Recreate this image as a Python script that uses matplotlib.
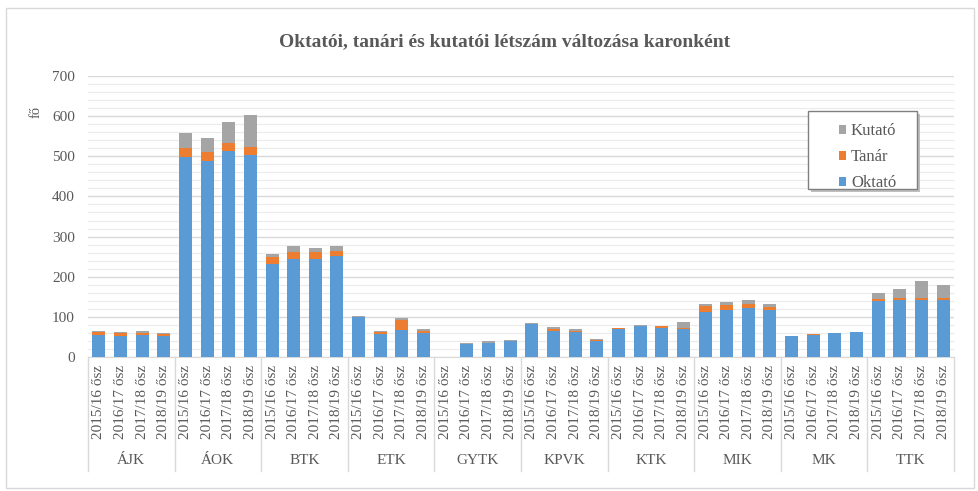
import matplotlib
matplotlib.use("Agg")
import matplotlib.pyplot as plt
import matplotlib.transforms as mtransforms
from matplotlib.patches import Rectangle
import numpy as np

plt.rcParams["font.family"] = ["Liberation Serif", "DejaVu Serif"]

# data
karok = ["ÁJK", "ÁOK", "BTK", "ETK", "GYTK", "KPVK", "KTK", "MIK", "MK", "TTK"]
evek = ["2015/16 ősz", "2016/17 ősz", "2017/18 ősz", "2018/19 ősz"]

oktato = [55, 53, 55, 53, 499, 488, 512, 502, 232, 243, 243, 252,
          99, 58, 68, 61, 0, 32, 34, 39, 81, 65, 62, 39,
          69, 76, 73, 69, 112, 118, 123, 118, 52, 55, 60, 63,
          139, 141, 141, 141]
tanar = [7, 6, 5, 5, 22, 22, 21, 21, 16, 19, 19, 12,
         0, 4, 23, 4, 0, 0, 0, 0, 0, 5, 4, 3,
         2, 1, 3, 3, 16, 12, 8, 7, 0, 2, 0, 0,
         6, 6, 6, 6]
kutato = [3, 4, 6, 3, 37, 36, 53, 80, 8, 15, 10, 12,
          2, 4, 7, 5, 0, 4, 5, 3, 4, 5, 3, 3,
          2, 2, 1, 16, 4, 8, 10, 7, 0, 0, 1, 0,
          15, 22, 43, 32]

c_okt = "#5B9BD5"
c_tan = "#ED7D31"
c_kut = "#A5A5A5"
txt = "#595959"

W, H = 979, 491
fig = plt.figure(figsize=(W / 100, H / 100), dpi=100)
fig.patches.append(Rectangle((6 / W, 3 / H), 968 / W, 480 / H,
                             transform=fig.transFigure, fill=False,
                             edgecolor="#D9D9D9", linewidth=1.0))

ax = fig.add_axes([88 / W, 1 - 357 / H, 866 / W, 281 / H])

x = np.arange(len(oktato))
okt = np.array(oktato)
tan = np.array(tanar)
kut = np.array(kutato)
w = 0.6
ax.bar(x, okt, width=w, color=c_okt, label="Oktató", zorder=3)
ax.bar(x, tan, width=w, bottom=okt, color=c_tan, label="Tanár", zorder=3)
ax.bar(x, kut, width=w, bottom=okt + tan, color=c_kut, label="Kutató", zorder=3)

ax.set_xlim(-0.5, len(oktato) - 0.5)
ax.set_ylim(0, 700)
ax.set_yticks(np.arange(0, 701, 100))
ax.set_yticks(np.arange(0, 701, 20), minor=True)
ax.grid(axis="y", which="major", color="#D9D9D9", linewidth=1.0, zorder=0)
ax.grid(axis="y", which="minor", color="#EBEBEB", linewidth=0.8, zorder=0)
ax.tick_params(axis="y", which="both", length=0, labelsize=11, labelcolor=txt, pad=9.5)
for s in ["top", "right", "left"]:
    ax.spines[s].set_visible(False)
ax.spines["bottom"].set_color("#D9D9D9")

ax.set_xticks(x)
ax.set_xticklabels(evek * len(karok), rotation=90, fontsize=11, color=txt)
ax.tick_params(axis="x", length=0, pad=5.5)

# group separators and labels
trans = mtransforms.blended_transform_factory(ax.transData, ax.transAxes)
for i in range(len(karok) + 1):
    xs = i * 4 - 0.5
    ax.plot([xs, xs], [0, -0.405], transform=trans, color="#D9D9D9",
            linewidth=1.0, clip_on=False)
for i, k in enumerate(karok):
    ax.text(i * 4 + 1.5, -(460 - 357) / 281, k, transform=trans, ha="center",
            va="center", fontsize=11, color=txt)

fig.text(505 / W, 1 - 42 / H, "Oktatói, tanári és kutatói létszám változása karonként",
         ha="center", va="center", fontsize=14, fontweight="bold", color=txt)
fig.text(36 / W, 1 - 112 / H, "fő", rotation=90, ha="center", va="center",
         fontsize=10.5, color=txt)

# legend frame with shadow, drawn separately
fig.patches.append(Rectangle((811 / W, 1 - 192 / H), 109 / W, 78 / H,
                             transform=fig.transFigure, facecolor="#BFBFBF",
                             edgecolor="none", zorder=4))
fig.patches.append(Rectangle((808 / W, 1 - 189 / H), 109 / W, 78 / H,
                             transform=fig.transFigure, facecolor="white",
                             edgecolor="#7F7F7F", linewidth=1.0, zorder=4))

handles, labels = ax.get_legend_handles_labels()
leg = fig.legend(handles[::-1], labels[::-1], loc="upper left",
                 bbox_to_anchor=(831 / W, 1 - 115 / H),
                 fontsize=12, frameon=False, borderpad=0,
                 handlelength=0.4, handleheight=0.4, handletextpad=0.3,
                 labelspacing=0.6, labelcolor=txt)
leg.set_zorder(5)

fig.savefig("out.png", dpi=100)
